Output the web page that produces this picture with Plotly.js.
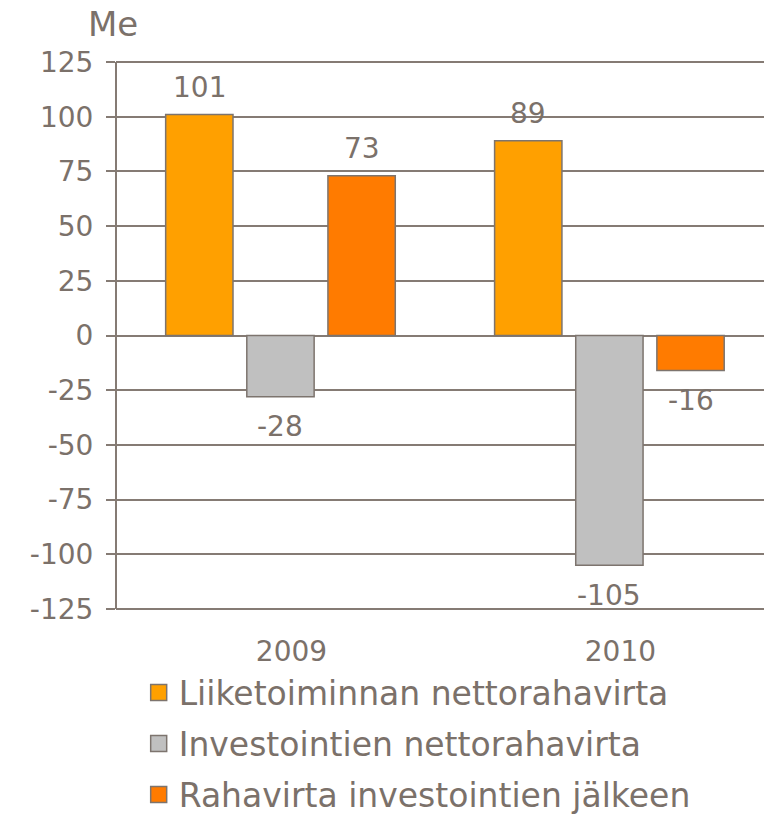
<!DOCTYPE html>
<html>
<head>
<meta charset="utf-8">
<script src="https://cdn.plot.ly/plotly-3.0.1.min.js"></script>
<style>html,body{margin:0;padding:0;background:#fff;}#chart{width:764px;height:815px;}</style>
</head>
<body>
<div id="chart"></div>
<script>
const categories = ['2009', '2010'];
const seriesNames = ['Liiketoiminnan nettorahavirta', 'Investointien nettorahavirta', 'Rahavirta investointien jälkeen'];
const liiketoiminta = [101, 89];
const investoinnit = [-28, -105];
const rahavirtaJalkeen = [73, -16];
const yTickVals = [125, 100, 75, 50, 25, 0, -25, -50, -75, -100, -125];
const yTickText = ['125', '100', '75', '50', '25', '0', '-25', '-50', '-75', '-100', '-125'];

const seriesValues = [liiketoiminta, investoinnit, rahavirtaJalkeen];
const colors = ['#FFA000', '#C0C0C0', '#FF7B00'];
const textColor = '#7b716a';
const lineColor = '#857b74';
const outline = '#7d746e';
const FONT = '"DejaVu Sans", sans-serif';

const bargap = 0.26, bargroupgap = 0.17;
const slot = (1 - bargap) / seriesValues.length;

const traces = seriesValues.map((vals, i) => ({
  type: 'bar',
  name: seriesNames[i],
  x: categories,
  y: vals,
  marker: {color: colors[i], line: {color: outline, width: 1.5}},
  showlegend: false,
  hoverinfo: 'skip'
}));
// legend entries (larger square swatches than the bar legend gives)
seriesValues.forEach((vals, i) => {
  traces.push({
    type: 'scatter', mode: 'markers', name: seriesNames[i],
    x: [null], y: [null],
    marker: {symbol: 'square', size: 16, color: colors[i], line: {color: outline, width: 1.5}},
    legendgroup: 'g' + i, showlegend: true, hoverinfo: 'skip'
  });
});

const annotations = [];
seriesValues.forEach((vals, i) => {
  vals.forEach((v, j) => {
    annotations.push({
      x: j + (i - (seriesValues.length - 1) / 2) * slot,
      y: v,
      xref: 'x', yref: 'y',
      text: String(v),
      showarrow: false,
      yanchor: 'middle',
      yshift: v >= 0 ? 27 : -30,
      font: {family: FONT, size: 28, color: textColor}
    });
  });
});

const layout = {
  width: 764, height: 815,
  margin: {l: 116, r: 0, t: 61, b: 205, pad: 0, autoexpand: false},
  paper_bgcolor: '#ffffff', plot_bgcolor: '#ffffff',
  font: {family: FONT, color: textColor, size: 28},
  title: {text: 'Me', xref: 'container', yref: 'container', x: 88/764, xanchor: 'left', y: 1 - 24/815, yanchor: 'middle',
          font: {family: FONT, size: 34, color: textColor}},
  barmode: 'group', bargap: bargap, bargroupgap: bargroupgap,
  xaxis: {type: 'category', range: [-0.5, 1.47], showgrid: false, zeroline: false, showline: false, ticks: '',
          tickfont: {family: FONT, size: 28, color: textColor}, ticklabelstandoff: 22, ticklabelshift: 11, fixedrange: true},
  yaxis: {range: [-125.5, 125.5], tickmode: 'array', tickvals: yTickVals, ticktext: yTickText,
          showgrid: true, gridcolor: lineColor, gridwidth: 2, zeroline: false,
          showline: false,
          ticks: 'outside', ticklen: 9, tickwidth: 2, tickcolor: lineColor, ticklabelstandoff: 7,
          tickfont: {family: FONT, size: 28, color: textColor}, fixedrange: true},
  shapes: [{type: 'line', xref: 'paper', yref: 'y', x0: 0, x1: 0, y0: -125, y1: 125,
            line: {color: lineColor, width: 2}}],
  legend: {orientation: 'v', x: 0.035, xanchor: 'left', y: -0.0995, yanchor: 'top', traceorder: 'grouped',
           tracegroupgap: 5, itemsizing: 'trace', font: {family: FONT, size: 33, color: textColor}, bgcolor: 'rgba(0,0,0,0)'},
  annotations: annotations,
  showlegend: true
};

Plotly.newPlot('chart', traces, layout, {displayModeBar: false, staticPlot: true});
</script>
</body>
</html>
